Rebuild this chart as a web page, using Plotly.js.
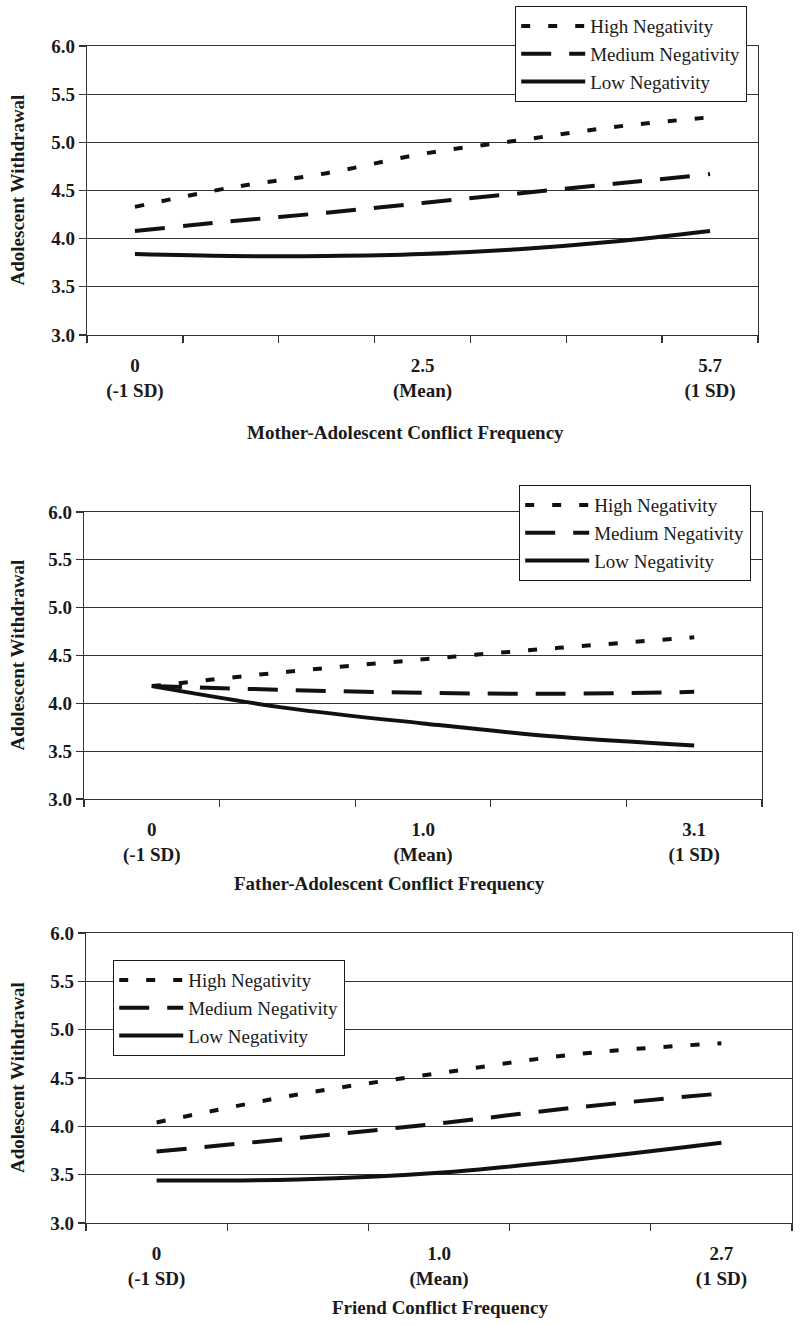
<!DOCTYPE html>
<html>
<head>
<meta charset="utf-8">
<script src="https://cdn.plot.ly/plotly-3.0.1.min.js"></script>
<style>
  html, body { margin: 0; padding: 0; background: #fff; }
  #chart { width: 800px; height: 1325px; }
</style>
</head>
<body>
<div id="chart"></div>
<script>
const seriesNames = ['High Negativity', 'Medium Negativity', 'Low Negativity'];

// mother panel: 7 steps on the x axis, labels on first / middle / last
const motherSteps = [0, 1, 2, 3, 4, 5, 6];
const motherHigh = [4.33, 4.53, 4.68, 4.88, 5.02, 5.16, 5.26];
const motherMedium = [4.08, 4.18, 4.27, 4.37, 4.47, 4.57, 4.67];
const motherLow = [3.84, 3.82, 3.82, 3.84, 3.89, 3.97, 4.08];
const motherTickPos = [0, 3, 6];
const motherTickText = ['0<br>(-1 SD)', '2.5<br>(Mean)', '5.7<br>(1 SD)'];

// father panel: 5 steps
const fatherSteps = [0, 1, 2, 3, 4];
const fatherHigh = [4.18, 4.33, 4.46, 4.58, 4.69];
const fatherMedium = [4.18, 4.14, 4.11, 4.10, 4.12];
const fatherLow = [4.18, 3.95, 3.79, 3.65, 3.56];
const fatherTickPos = [0, 2, 4];
const fatherTickText = ['0<br>(-1 SD)', '1.0<br>(Mean)', '3.1<br>(1 SD)'];

// friend panel: 5 steps
const friendSteps = [0, 1, 2, 3, 4];
const friendHigh = [4.04, 4.33, 4.55, 4.75, 4.86];
const friendMedium = [3.74, 3.88, 4.03, 4.20, 4.34];
const friendLow = [3.44, 3.45, 3.52, 3.66, 3.83];
const friendTickPos = [0, 2, 4];
const friendTickText = ['0<br>(-1 SD)', '1.0<br>(Mean)', '2.7<br>(1 SD)'];

const yTitle = 'Adolescent Withdrawal';
const yTicks = [3.0, 3.5, 4.0, 4.5, 5.0, 5.5, 6.0];

const W = 800;
const H = 1325;
const SERIF = '"Liberation Serif", "Times New Roman", serif';
const INK = '#1a1a1a';
const RULE = '#333';

// boxes are in page pixels, converted to paper below
const panels = [
    {
        steps: motherSteps,
        series: [motherHigh, motherMedium, motherLow],
        tickPos: motherTickPos,
        tickText: motherTickText,
        xTitle: 'Mother-Adolescent Conflict Frequency',
        box: { left: 87, right: 758, top: 46, bottom: 335 },
        legendAt: { x: 515, y: 6 },
        xTitleAt: { x: 405, y: 433 },
    },
    {
        steps: fatherSteps,
        series: [fatherHigh, fatherMedium, fatherLow],
        tickPos: fatherTickPos,
        tickText: fatherTickText,
        xTitle: 'Father-Adolescent Conflict Frequency',
        box: { left: 84, right: 762, top: 512, bottom: 799 },
        legendAt: { x: 519, y: 485 },
        xTitleAt: { x: 389, y: 883 },
    },
    {
        steps: friendSteps,
        series: [friendHigh, friendMedium, friendLow],
        tickPos: friendTickPos,
        tickText: friendTickText,
        xTitle: 'Friend Conflict Frequency',
        box: { left: 86, right: 792, top: 933, bottom: 1223 },
        legendAt: { x: 113, y: 960 },
        xTitleAt: { x: 440, y: 1307 },
    },
];

const lineStyles = [
    { dash: '9px,18px' },
    { dash: '30px,18px' },
    { dash: 'solid' },
];

function buildFigure() {
    const traces = [];
    const layout = {
        width: W,
        height: H,
        margin: { l: 0, r: 0, t: 0, b: 0 },
        paper_bgcolor: '#fff',
        plot_bgcolor: '#fff',
        font: { family: SERIF, color: INK },
        annotations: [],
    };

    const tickFont = { family: SERIF, size: 19, color: INK, weight: 'bold' };

    panels.forEach((p, i) => {
        const k = i === 0 ? '' : String(i + 1);
        const xName = 'x' + k;
        const yName = 'y' + k;
        const legendName = 'legend' + k;
        const n = p.steps.length;

        p.series.forEach((ys, j) => {
            traces.push({
                type: 'scatter',
                mode: 'lines',
                name: seriesNames[j],
                x: p.steps,
                y: ys,
                xaxis: xName,
                yaxis: yName,
                legend: legendName,
                hoverinfo: 'skip',
                line: {
                    color: '#111',
                    width: 4,
                    dash: lineStyles[j].dash,
                    shape: 'spline',
                    smoothing: 1,
                },
            });
        });

        layout['xaxis' + k] = {
            domain: [p.box.left / W, p.box.right / W],
            anchor: yName,
            range: [-0.5, n - 0.5],
            tickmode: 'array',
            tickvals: p.tickPos,
            ticktext: p.tickText,
            ticks: '',
            ticklabelstandoff: 13,
            tickfont: tickFont,
            showgrid: false,
            zeroline: false,
            showline: true,
            linecolor: RULE,
            linewidth: 1.3,
            mirror: true,
            // category dividers hang under the axis
            minor: {
                tick0: -0.5,
                dtick: 1,
                ticks: 'outside',
                ticklen: 7,
                tickwidth: 1.3,
                tickcolor: RULE,
                showgrid: false,
            },
            fixedrange: true,
        };

        layout['yaxis' + k] = {
            domain: [1 - p.box.bottom / H, 1 - p.box.top / H],
            anchor: xName,
            range: [3, 6],
            tickmode: 'array',
            tickvals: yTicks,
            ticktext: yTicks.map(v => v.toFixed(1)),
            ticks: 'outside',
            ticklen: 7,
            tickwidth: 1.3,
            tickcolor: RULE,
            tickfont: tickFont,
            showgrid: true,
            gridcolor: RULE,
            gridwidth: 1,
            zeroline: false,
            showline: true,
            linecolor: RULE,
            linewidth: 1.3,
            mirror: true,
            fixedrange: true,
        };

        layout[legendName] = {
            x: p.legendAt.x / W,
            y: 1 - p.legendAt.y / H,
            xanchor: 'left',
            yanchor: 'top',
            bgcolor: '#fff',
            bordercolor: INK,
            borderwidth: 1.2,
            font: { family: SERIF, size: 19, color: INK },
            itemwidth: 64,
            tracegroupgap: 0,
        };

        layout.annotations.push({
            text: p.xTitle,
            xref: 'paper', yref: 'paper',
            x: p.xTitleAt.x / W,
            y: 1 - p.xTitleAt.y / H,
            xanchor: 'center', yanchor: 'middle',
            showarrow: false,
            font: { family: SERIF, size: 19, color: INK, weight: 'bold' },
        });

        layout.annotations.push({
            text: yTitle,
            xref: 'paper', yref: 'paper',
            x: 17 / W,
            y: 1 - (p.box.top + p.box.bottom) / 2 / H,
            xanchor: 'center', yanchor: 'middle',
            textangle: -90,
            showarrow: false,
            font: { family: SERIF, size: 19, color: INK, weight: 'bold' },
        });
    });

    const config = {
        responsive: false,
        displaylogo: false,
        displayModeBar: false,
        staticPlot: true,
    };

    return { traces, layout, config };
}

const fig = buildFigure();
Plotly.newPlot('chart', fig.traces, fig.layout, fig.config);
</script>
</body>
</html>
